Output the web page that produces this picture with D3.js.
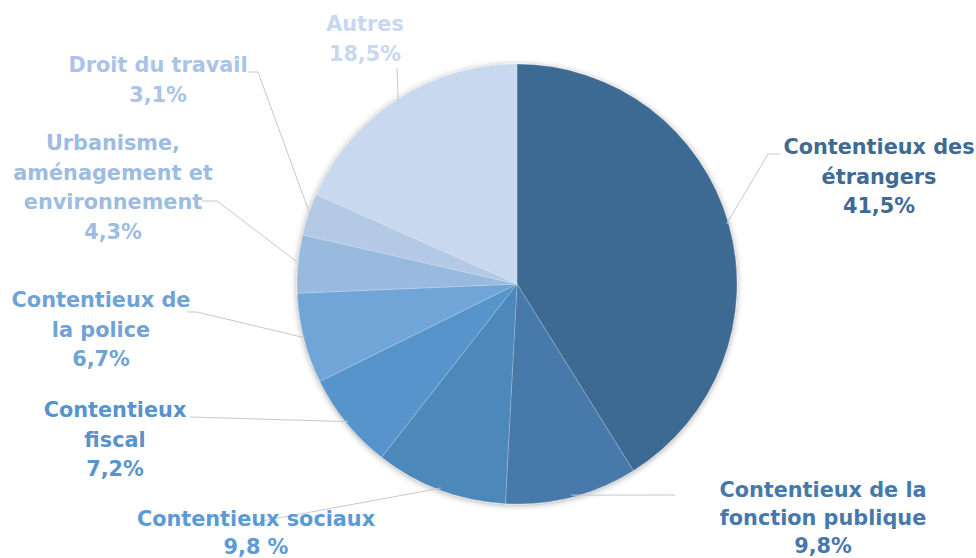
<!DOCTYPE html>
<html>
<head>
<meta charset="utf-8">
<script src="https://cdn.jsdelivr.net/npm/d3@7"></script>
<style>
  html, body { margin: 0; padding: 0; background: #fff; }
  svg { display: block; }
  text { font-family: "DejaVu Sans", sans-serif; font-weight: bold; }
</style>
</head>
<body>
<svg id="chart" width="976" height="558"></svg>
<script>
// chart data
var categories = [
  ['Contentieux des', 'étrangers'],
  ['Contentieux de la', 'fonction publique'],
  ['Contentieux sociaux'],
  ['Contentieux', 'fiscal'],
  ['Contentieux de', 'la police'],
  ['Urbanisme,', 'aménagement et', 'environnement'],
  ['Droit du travail'],
  ['Autres']
];
var values = [41.5, 9.8, 9.8, 7.2, 6.7, 4.3, 3.1, 18.5];
var pctLabels = ['41,5%', '9,8%', '9,8 %', '7,2%', '6,7%', '4,3%', '3,1%', '18,5%'];

var sliceColors = ['#3e6a93', '#4679ab', '#4d88bb', '#5694cb', '#72a5d7', '#99badf', '#b3c9e5', '#c8d8ee'];
var textColors  = ['#3e6a93', '#4679ab', '#5b9bd5', '#5694cb', '#6fa3d6', '#9dbce2', '#a9c4e6', '#c8d8ee'];

// label layout: text centre x, first line y, line height, leader elbow points
var labelPos = [
  {x: 879, y: 147, lh: 29.5, line: [[768, 154], [780, 154]]},
  {x: 823, y: 490, lh: 28,   line: [[675, 495]]},
  {x: 256, y: 519, lh: 28,   line: [[262, 521]]},
  {x: 115, y: 410, lh: 29.5, line: [[190, 417]]},
  {x: 101, y: 300, lh: 29.5, line: [[197, 312], [187, 312]]},
  {x: 113, y: 143, lh: 29.5, line: [[217, 201], [202, 201]]},
  {x: 158, y: 65,  lh: 29.5, line: [[258, 72], [248, 72]]},
  {x: 365, y: 24,  lh: 29.5, line: [[397, 68]]}
];

var cx = 517, cy = 284, radius = 220;

var svg = d3.select('#chart');

var defs = svg.append('defs');
var filter = defs.append('filter').attr('id', 'shadow')
  .attr('x', '-10%').attr('y', '-10%').attr('width', '120%').attr('height', '120%');
filter.append('feDropShadow')
  .attr('dx', 0).attr('dy', 1)
  .attr('stdDeviation', 3)
  .attr('flood-color', '#000')
  .attr('flood-opacity', 0.35);

var pie = d3.pie().sort(null).value(d => d);
var arcs = pie(values);
var arc = d3.arc().innerRadius(0).outerRadius(radius);

var g = svg.append('g').attr('transform', 'translate(' + cx + ',' + cy + ')');

// leader lines (drawn beneath the pie)
var lines = svg.append('g');
arcs.forEach(function(a, i) {
  var mid = (a.startAngle + a.endAngle) / 2;
  var start = [cx + (radius - 2) * Math.sin(mid), cy - (radius - 2) * Math.cos(mid)];
  var pts = [start].concat(labelPos[i].line);
  lines.append('path')
    .attr('d', d3.line()(pts))
    .attr('fill', 'none')
    .attr('stroke', '#c8c8c8')
    .attr('stroke-width', 1);
});

var pieG = g.append('g').attr('filter', 'url(#shadow)');
pieG.selectAll('path')
  .data(arcs)
  .enter().append('path')
  .attr('d', arc)
  .attr('fill', (d, i) => sliceColors[i])
  .attr('stroke', 'rgba(255,255,255,0.35)')
  .attr('stroke-width', 0.6);

// labels
var labels = svg.append('g');
arcs.forEach(function(a, i) {
  var rows = categories[i].concat([pctLabels[i]]);
  var t = labels.append('text')
    .attr('text-anchor', 'middle')
    .attr('font-size', '20.8px')
    .attr('fill', textColors[i]);
  rows.forEach(function(r, k) {
    t.append('tspan')
      .attr('x', labelPos[i].x)
      .attr('y', labelPos[i].y + k * labelPos[i].lh)
      .attr('dy', '0.35em')
      .text(r);
  });
});
</script>
</body>
</html>
